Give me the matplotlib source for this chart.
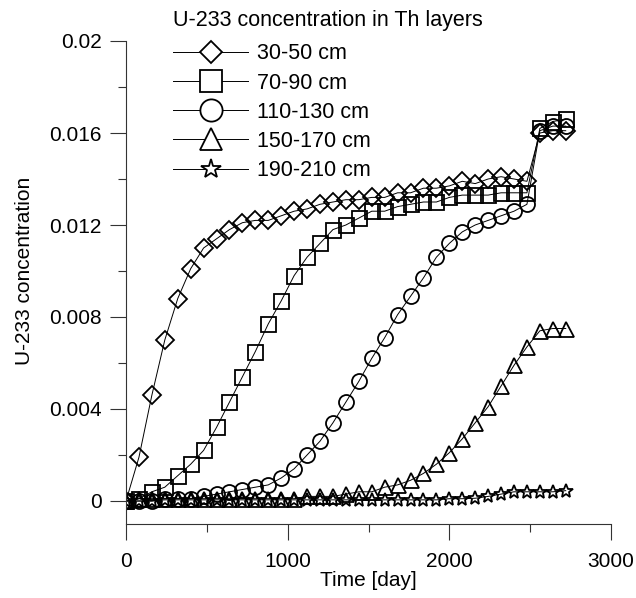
import matplotlib
matplotlib.use("Agg")
import matplotlib.pyplot as plt
from matplotlib.lines import Line2D
from matplotlib.ticker import MultipleLocator

plt.rcParams['font.family'] = ['Liberation Sans', 'DejaVu Sans']

# ---- data ----
time_days = [0, 80, 160, 240, 320, 400, 480, 560, 640, 720, 800, 880, 960,
             1040, 1120, 1200, 1280, 1360, 1440, 1520, 1600, 1680, 1760, 1840,
             1920, 2000, 2080, 2160, 2240, 2320, 2400, 2480, 2560, 2640, 2720]

layer_30_50 = [0, 0.0019, 0.0046, 0.0070, 0.0088, 0.0101, 0.0110, 0.0114, 0.0118,
               0.0121, 0.0122, 0.0122, 0.0124, 0.0126, 0.0127, 0.0129, 0.0130,
               0.0131, 0.0131, 0.0132, 0.0132, 0.0134, 0.0134, 0.0136, 0.0136,
               0.0137, 0.0139, 0.0138, 0.0140, 0.0141, 0.0140, 0.0139,
               0.0160, 0.0161, 0.0161]
layer_70_90 = [0, 0.0001, 0.0004, 0.0006, 0.0011, 0.0016, 0.0022, 0.0032, 0.0043,
               0.0054, 0.0065, 0.0077, 0.0087, 0.0098, 0.0106, 0.0112, 0.0118,
               0.0120, 0.0123, 0.0126, 0.0126, 0.0128, 0.0129, 0.0130, 0.0130,
               0.0132, 0.0133, 0.0133, 0.0133, 0.0134, 0.0134, 0.0134,
               0.0162, 0.0165, 0.0166]
layer_110_130 = [0, 0.0, 0.0, 0.0001, 0.0001, 0.0001, 0.0002, 0.0003, 0.0004,
                 0.0005, 0.0006, 0.0007, 0.0010, 0.0014, 0.0020, 0.0026, 0.0034,
                 0.0043, 0.0052, 0.0062, 0.0071, 0.0081, 0.0089, 0.0097, 0.0106,
                 0.0112, 0.0117, 0.0120, 0.0122, 0.0124, 0.0126, 0.0129,
                 0.0161, 0.0163, 0.0163]
layer_150_170 = [0, 0.0001, 0.0001, 0.0001, 0.0001, 0.0001, 0.0001, 0.0001, 0.0001,
                 0.0001, 0.0001, 0.0001, 0.0001, 0.0001, 0.0002, 0.0002, 0.0002,
                 0.0003, 0.0004, 0.0004, 0.0006, 0.0007, 0.0009, 0.0012, 0.0016,
                 0.0021, 0.0027, 0.0034, 0.0041, 0.0050, 0.0059, 0.0067,
                 0.0074, 0.0075, 0.0075]
layer_190_210 = [0, 0.0, 0.0, 0.00005, 0.00005, 0.00005, 0.00005, 0.00005, 0.00005,
                 0.00005, 0.00005, 0.00005, 0.00005, 0.00005, 0.00005, 0.00005, 0.00005,
                 0.00005, 0.00005, 0.00005, 0.00005, 0.00005, 0.00005, 0.00005, 0.00005,
                 0.0001, 0.0001, 0.00012, 0.0002, 0.0003, 0.0004, 0.0004,
                 0.0004, 0.0004, 0.00045]

series_labels = ["30-50 cm", "70-90 cm", "110-130 cm", "150-170 cm", "190-210 cm"]
legend_title = "U-233 concentration in Th layers"
y_ticks = [0, 0.004, 0.008, 0.012, 0.016, 0.02]
y_tick_labels = ["0", "0.004", "0.008", "0.012", "0.016", "0.02"]
x_ticks = [0, 1000, 2000, 3000]
x_tick_labels = ["0", "1000", "2000", "3000"]

# ---- styles ----
series = [layer_30_50, layer_70_90, layer_110_130, layer_150_170, layer_190_210]
markers = ['D', 's', 'o', '^', '*']
plot_ms = [8.7, 10.8, 10.8, 10.8, 10.5]
leg_ms = [11.5, 16.0, 16.0, 16.0, 14.5]

fig = plt.figure(figsize=(6.36, 5.98), dpi=100)
ax = fig.add_axes([126/636, 1-524/598, 485/636, 483/598])

for ys, m, ms in zip(series, markers, plot_ms):
    ax.plot(time_days, ys, color='black', lw=0.7, marker=m, ms=ms,
            mfc='none', mec='black', mew=1.3)

ax.set_xlim(0, 3000)
ax.set_ylim(-0.001, 0.02)
ax.set_xticks(x_ticks)
ax.set_xticklabels(x_tick_labels)
ax.set_yticks(y_ticks)
ax.set_yticklabels(y_tick_labels)
ax.xaxis.set_minor_locator(MultipleLocator(500))
ax.yaxis.set_minor_locator(MultipleLocator(0.002))

for s in ['top', 'right']:
    ax.spines[s].set_visible(False)
for s in ['left', 'bottom']:
    ax.spines[s].set_linewidth(0.8)
    ax.spines[s].set_color('#333333')

ax.tick_params(which='major', direction='out', length=11.5, width=0.8,
               colors='#333333', labelcolor='black', labelsize=15, pad=6)
ax.tick_params(which='minor', direction='out', length=5.8, width=0.8,
               colors='#333333')
ax.tick_params(axis='x', which='major', pad=9)

ax.set_xlabel("Time [day]", fontsize=15)
ax.set_ylabel("U-233 concentration", fontsize=15)
ax.xaxis.set_label_coords(0.5, -0.097)
ax.yaxis.set_label_coords(-0.19, (524-271)/483)

handles = [Line2D([], [], color='black', lw=0.7, marker=m, ms=ms,
                  mfc='white', mec='black', mew=1.3)
           for m, ms in zip(markers, leg_ms)]
leg = fig.legend(handles, series_labels, title=legend_title,
                 loc='upper left', bbox_to_anchor=(173/636, 1-10/598),
                 frameon=False, fontsize=15.5, title_fontsize=15.5,
                 handlelength=3.5, handletextpad=0.4, labelspacing=0.38,
                 borderpad=0, borderaxespad=0, alignment='left')
# a little more room between the legend title and the first entry
leg._legend_box.sep = 0.38 * 15.5 + 3

fig.savefig("out.png", dpi=100)
